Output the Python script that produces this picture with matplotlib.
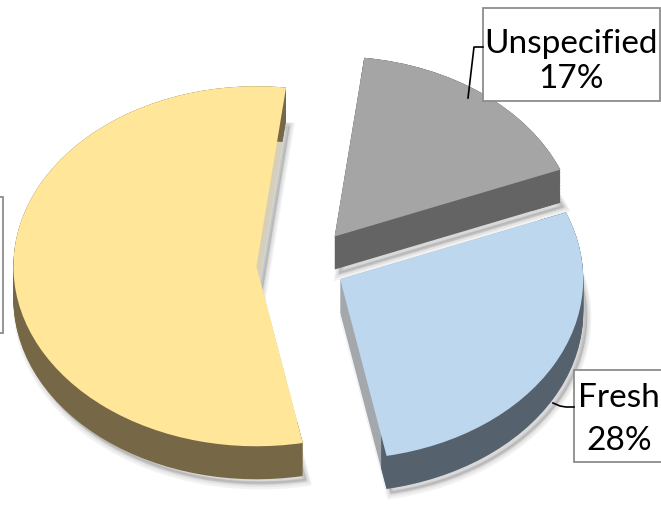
import matplotlib
matplotlib.use("Agg")
import matplotlib.pyplot as plt
from matplotlib.patches import Rectangle

# ---- data ----
categories = ["Unspecified", "Fresh", "Frozen"]
values = [17, 28, 55]
top_colors = ["#A5A5A5", "#BDD7EE", "#FFE699"]
edge_colors = ["#646464", "#A4A8AD", "#D6D0BB"]   # exposed radial faces
side_colors = ["#646464", "#56616E", "#766846"]   # curved outer walls
explode = [0.2, 0.165, 0.2]

W, H = 661, 505
fig = plt.figure(figsize=(W / 100, H / 100), dpi=100)
ax = fig.add_axes([0, 0, 1, 1])

rx, ry = 243, 180          # pixel radius horizontally / vertically
cx_px, cy_px = 305, 265    # pie centre in pixels (from top-left)
thick = 33 / ry            # depth of the 3-D pie in data units
start = 83
common = dict(explode=explode, startangle=start, counterclock=False, radius=1)

# soft shadow
for i, a in enumerate([0.05, 0.05, 0.05]):
    ax.pie(values, colors=["black"] * 3, center=(4 / rx, -thick - (4 + i) / ry),
           wedgeprops=dict(linewidth=2 + 2 * i, edgecolor="black", alpha=a), **common)

n_layers = 24
for k in range(n_layers):
    z = -thick + thick * k / (n_layers - 1)
    ax.pie(values, colors=edge_colors, center=(0, z),
           wedgeprops=dict(linewidth=0), **common)
for k in range(n_layers):
    z = -thick + thick * k / (n_layers - 1)
    ax.pie(values, colors=side_colors, center=(0, z),
           wedgeprops=dict(linewidth=0, width=0.12), **common)

ax.pie(values, colors=top_colors, center=(0, 0),
       wedgeprops=dict(linewidth=0), **common)

ax.set_aspect("auto")
ax.set_xlim(-cx_px / rx, (W - cx_px) / rx)
ax.set_ylim(-(H - cy_px) / ry, cy_px / ry)
ax.axis("off")

# ---- annotation overlay in pixel coordinates ----
ov = fig.add_axes([0, 0, 1, 1])
ov.set_xlim(0, W)
ov.set_ylim(H, 0)
ov.axis("off")
ov.patch.set_alpha(0)

font = dict(family=["Lato", "DejaVu Sans"], fontsize=24, color="black")
box_style = dict(facecolor="white", edgecolor="#8C8C8C", linewidth=1.3)

# Unspecified
ov.add_patch(Rectangle((483, 8), 177, 93, **box_style))
ov.plot([468, 474, 483], [98, 47, 47], color="black", lw=1.2)
ov.text(571, 53, categories[0], ha="center", va="baseline", **font)
ov.text(571, 88, f"{values[0]}%", ha="center", va="baseline", **font)

# Fresh
ov.add_patch(Rectangle((574, 370), 90, 92, **box_style))
ov.plot([553, 560, 566, 574], [403, 406, 407, 407], color="black", lw=1.2)
ov.text(619, 407, categories[1], ha="center", va="baseline", **font)
ov.text(619, 450, f"{values[1]}%", ha="center", va="baseline", **font)

# third label box (its text lies beyond the left edge of the picture)
ov.add_patch(Rectangle((-160, 197), 163, 136, **box_style))

fig.savefig("out.png", dpi=100)
